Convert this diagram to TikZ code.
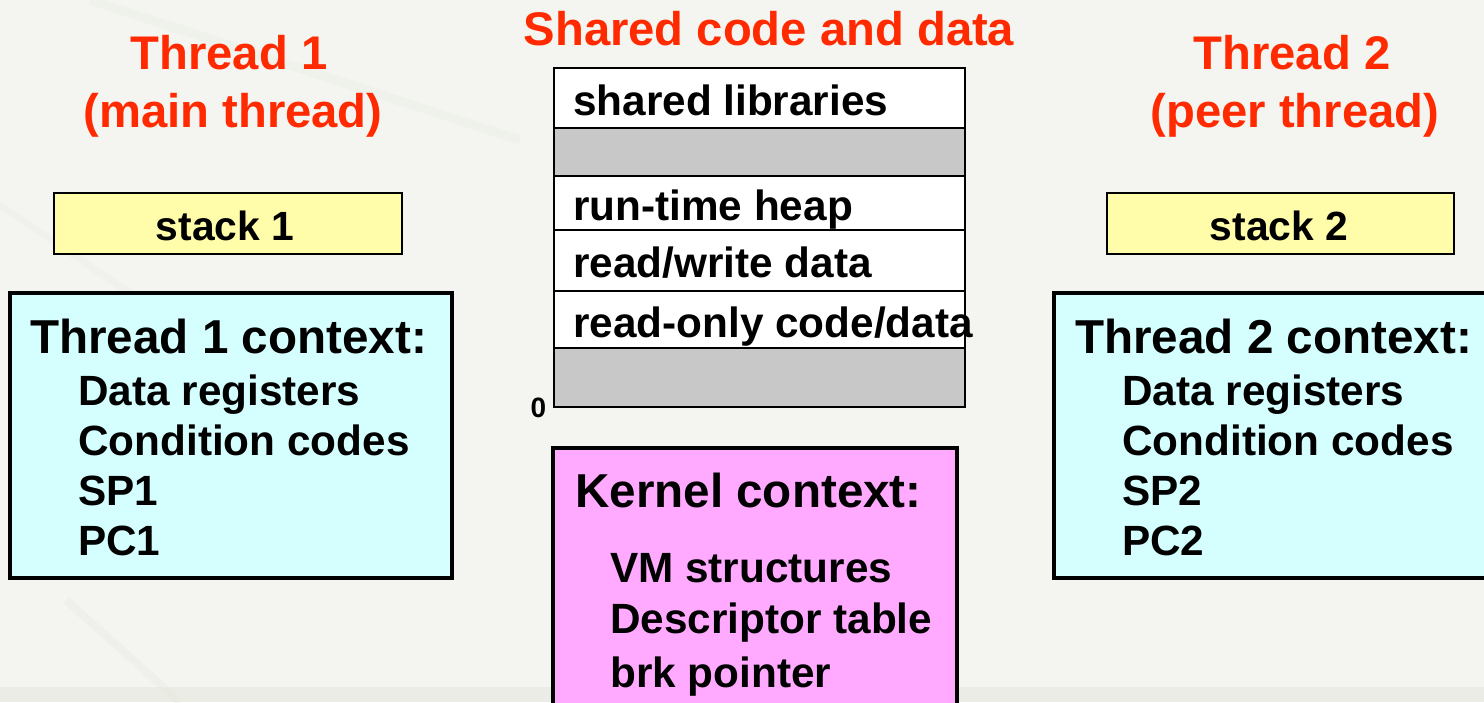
\documentclass[tikz,border=0pt]{standalone}
\usepackage{fontspec}
\setmainfont{Liberation Sans}
\definecolor{bgpaper}{HTML}{F4F5F1}
\definecolor{bgband}{HTML}{EBECE5}
\definecolor{streak}{HTML}{E8EAE2}
\definecolor{headred}{HTML}{FF2A00}
\definecolor{stackfill}{HTML}{FFFCAA}
\definecolor{ctxfill}{HTML}{D5FFFF}
\definecolor{kernfill}{HTML}{FFAAFF}
\definecolor{memgray}{HTML}{C8C8C8}
\begin{document}
\begin{tikzpicture}[x=1pt,y=-1pt,
  heading/.style={text=headred, font=\bfseries\fontsize{47.2}{56}\selectfont, inner sep=0pt, anchor=base},
  stackbox/.style={draw=black, line width=2.5pt, fill=stackfill, inner sep=0pt},
  ctxbox/.style={draw=black, line width=4.5pt, fill=ctxfill, inner sep=0pt},
  kernbox/.style={draw=black, line width=4.5pt, fill=kernfill, inner sep=0pt},
  memrow/.style={draw=black, line width=2.5pt, fill=white, inner sep=0pt, minimum width=411pt},
  memgap/.style={memrow, fill=memgray},
  title/.style={font=\bfseries\fontsize{47.6}{56}\selectfont, inner sep=0pt, anchor=base west},
  item/.style={font=\bfseries\fontsize{42.3}{50}\selectfont, inner sep=0pt, anchor=base west},
  stacklabel/.style={font=\bfseries\fontsize{40.8}{48}\selectfont, inner sep=0pt, anchor=base}]

% page and faint background texture
\useasboundingbox (0,0) rectangle (1484,702);
\fill[bgpaper] (0,0) rectangle (1484,702);
\fill[bgband] (0,687) rectangle (1484,702);
\draw[streak, line width=9pt, opacity=0.35] (90,0) -- (520,140);
\draw[streak, line width=7pt, opacity=0.3] (0,205) -- (140,300);
\draw[streak, line width=8pt, opacity=0.4] (66,600) -- (180,702);
\draw[streak, line width=9pt, opacity=0.25] (1100,300) -- (1484,420);

% headings
\node[heading] (h1a) at (229,69) {Thread 1};
\node[heading] (h1b) at (233,127) {(main thread)};
\node[heading] (hs)  at (769,45) {Shared code and data};
\node[heading] (h2a) at (1292,69) {Thread 2};
\node[heading] (h2b) at (1295,127) {(peer thread)};

% thread stacks
\node[stackbox, minimum width=348pt, minimum height=61pt] (stack1) at (228,223.5) {};
\node[stacklabel] (stack1t) at (225,240) {stack 1};
\node[stackbox, minimum width=347pt, minimum height=61pt] (stack2) at (1280.5,223.5) {};
\node[stacklabel] (stack2t) at (1279,240) {stack 2};

% thread contexts
\node[ctxbox, minimum width=442pt, minimum height=285pt] (ctx1) at (231,435.5) {};
\node[title] (ctx1t) at (30,353) {Thread 1 context:};
\node[item] (ctx1a) at (78,405) {Data registers};
\node[item] (ctx1b) at (78,455) {Condition codes};
\node[item] (ctx1c) at (78,505) {SP1};
\node[item] (ctx1d) at (78,555) {PC1};

\node[ctxbox, minimum width=450pt, minimum height=285pt] (ctx2) at (1279,435.5) {};
\node[title] (ctx2t) at (1075,353) {Thread 2 context:};
\node[item] (ctx2a) at (1122,405) {Data registers};
\node[item] (ctx2b) at (1122,455) {Condition codes};
\node[item] (ctx2c) at (1122,505) {SP2};
\node[item] (ctx2d) at (1122,555) {PC2};

% shared address space
\node[memrow, minimum height=60pt] (libs) at (759.5,98) {};
\node[memgap, minimum height=48pt] (gap1) at (759.5,152) {};
\node[memrow, minimum height=54pt] (heap) at (759.5,203) {};
\node[memrow, minimum height=61pt] (rw) at (759.5,260.5) {};
\node[memrow, minimum height=57pt] (ro) at (759.5,319.5) {};
\node[memgap, minimum height=59pt] (gap2) at (759.5,377.5) {};
\node[item] (libst) at (573,115) {shared libraries};
\node[item] (heapt) at (573,220) {run-time heap};
\node[item] (rwt) at (573,277) {read/write data};
\node[item] (rot) at (573,337) {read-only code/data};
\node[font=\bfseries\fontsize{28}{32}\selectfont, inner sep=0pt, anchor=base] (zero) at (538.5,417) {0};

% kernel context
\node[kernbox, minimum width=404pt, minimum height=300pt] (kern) at (755,598) {};
\node[title] (kernt) at (575,507) {Kernel context:};
\node[item] (kerna) at (610,582) {VM structures};
\node[item] (kernb) at (610,633) {Descriptor table};
\node[item] (kernc) at (610,687) {brk pointer};
\end{tikzpicture}
\end{document}
